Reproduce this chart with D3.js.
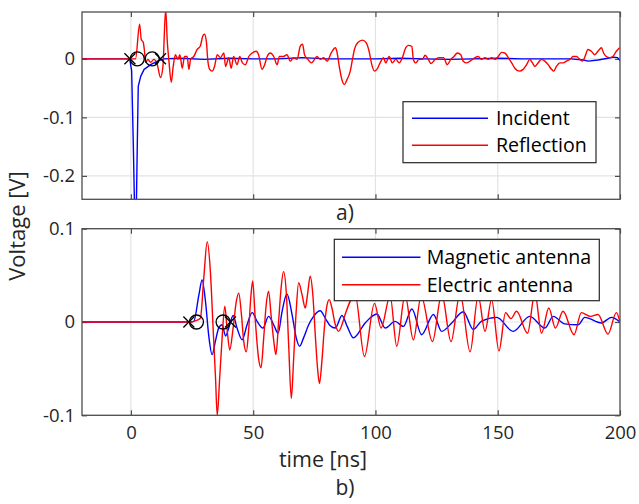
<!DOCTYPE html>
<html>
<head>
<meta charset="utf-8">
<script src="https://cdn.jsdelivr.net/npm/d3@7"></script>
<style>
  html, body { margin: 0; padding: 0; background: #fff; }
  svg { display: block; font-family: "Open Sans", "DejaVu Sans", sans-serif; }
</style>
</head>
<body>
<svg id="chart" width="639" height="504"></svg>
<script>
// ---------------- DATA ----------------
const xTicks = [0, 50, 100, 150, 200];
const xTickLabels = ["0", "50", "100", "150", "200"];
const yTicksTop = [-0.2, -0.1, 0];
const yTickLabelsTop = ["-0.2", "-0.1", "0"];
const yTicksBottom = [-0.1, 0, 0.1];
const yTickLabelsBottom = ["-0.1", "0", "0.1"];

// panel a) : time [ns], voltage [V]
const incidentT = [-20, -5, -0.5, 0.3, 1.0, 1.7, 2.2, 2.6, 3.0, 4.0, 5.4, 8.1, 10.8, 13.5, 20, 30, 40, 50, 60, 70, 80, 90, 100, 110, 120, 130, 140, 150, 160, 170, 180, 185, 187, 191, 195, 197.5, 199, 200];
const incidentV = [0, 0, 0, -0.02, -0.15, -0.30, -0.26, -0.15, -0.047, -0.030, -0.018, -0.010, -0.004, 0.0, 0.001, -0.001, 0.001, 0.0, 0.0, 0.002, 0.0, 0.0, 0.0, 0.001, 0.0, -0.001, 0.0, 0.001, 0.0, 0.0, 0.0, -0.002, -0.004, -0.002, 0.001, 0.003, 0.002, -0.003];

const reflectionT = [-20, -5, 1.9, 3.55, 4.24, 5.06, 5.6, 6.0, 6.94, 8.04, 9.4, 10.8, 12.1, 13.1, 14.2, 14.9, 15.5, 16.5, 17.3, 18.2, 19.2, 20.0, 21.0, 21.9, 23.0, 23.7, 24.4, 25.7, 27.1, 28.4, 29.4, 30.1, 30.9, 31.4, 32.2, 33.2, 34.2, 35.3, 36.6, 38.0, 38.7, 40.0, 41.0, 42.0, 43.4, 44.5, 45.6, 46.8, 48.2, 49.6, 51.2, 52.2, 53.6, 54.7, 55.7, 57.0, 58.4, 59.8, 60.7, 62.4, 63.8, 65.2, 66.5, 67.9, 69.3, 70.2, 71.0, 72.4, 73.8, 75.1, 76.1, 77.4, 78.8, 80.2, 81.9, 83.6, 84.2, 85.2, 86.3, 87.3, 88.3, 89.7, 90.6, 91.4, 92.8, 94.7, 96.1, 97.4, 98.5, 99.6, 100.6, 101.9, 103.3, 104.2, 105.6, 106.9, 108.3, 109.7, 111.0, 112.4, 113.5, 114.9, 115.5, 116.5, 117.8, 119.2, 120.3, 121.6, 122.7, 124.4, 125.9, 127.8, 129.4, 130.8, 132.1, 133.5, 134.9, 135.9, 137.3, 138.7, 140.7, 142.0, 143.4, 144.8, 146.1, 147.5, 148.9, 150.2, 151.6, 152.9, 154.3, 155.7, 157.0, 158.8, 160.4, 161.8, 163.1, 164.2, 165.2, 166.5, 167.9, 169.3, 170.6, 172.0, 172.9, 174.0, 175.4, 176.7, 178.1, 179.5, 180.8, 182.2, 183.6, 184.7, 185.7, 186.9, 188.3, 189.7, 191.0, 192.4, 193.3, 194.4, 195.8, 197.1, 198.5, 199.8];
const reflectionV = [0, 0, 0, 0.059, 0.033, 0.028, 0.011, -0.006, -0.001, -0.006, -0.001, -0.010, -0.032, -0.013, 0.085, 0.028, -0.001, -0.040, -0.013, 0.007, -0.001, 0.007, -0.016, 0.004, 0.004, -0.018, -0.001, 0.004, 0.016, 0.022, 0.039, 0.042, 0.028, -0.001, -0.018, -0.021, -0.013, 0.007, 0.002, 0.010, -0.013, 0.002, -0.016, 0.004, -0.010, 0.004, -0.007, -0.010, 0.004, 0.010, 0.013, 0.007, -0.018, -0.010, 0.004, 0.010, 0.004, -0.010, 0.004, 0.004, 0.007, -0.004, 0.002, -0.001, 0.022, 0.025, 0.007, -0.001, -0.007, -0.001, 0.004, -0.001, 0.002, -0.004, 0.010, 0.019, 0.013, -0.013, -0.036, -0.044, -0.036, -0.021, -0.001, 0.016, 0.028, 0.032, 0.028, 0.013, -0.010, -0.021, -0.018, -0.007, 0.002, -0.007, 0.004, -0.007, -0.001, -0.007, 0.002, 0.019, 0.023, 0.021, -0.001, -0.007, -0.001, -0.001, 0.006, -0.001, -0.008, -0.001, 0.002, 0.002, -0.010, -0.001, 0.004, 0.010, 0.007, -0.004, -0.007, -0.004, 0.002, 0.004, -0.001, 0.002, -0.001, 0.002, -0.001, 0.004, 0.011, 0.010, 0.002, -0.007, -0.016, -0.021, -0.018, -0.010, -0.001, -0.007, -0.013, -0.007, -0.001, -0.004, -0.010, -0.018, -0.021, -0.013, -0.007, -0.007, -0.004, -0.001, 0.004, 0.004, -0.001, -0.004, 0.004, 0.016, 0.013, 0.007, 0.013, 0.019, 0.010, 0.004, 0.002, 0.004, 0.013, 0.019];

// panel a) markers
const markerCrossTop = [-0.4, 12.1];
const markerCircleTop = [2.6, 8.7];

// panel b)
const magneticT = [-20, 24, 25.7, 27.8, 29.1, 30.5, 31.8, 33.2, 34.6, 35.9, 37.3, 38.7, 40.0, 41.8, 43.4, 45.5, 47.5, 49.6, 51.6, 54.0, 56.3, 58.4, 60.2, 61.8, 63.8, 65.9, 67.6, 69.0, 70.6, 72.7, 74.7, 77.4, 79.5, 81.5, 83.6, 86.3, 88.5, 91.0, 95.8, 100.6, 104.0, 108.0, 111.4, 114.9, 118.9, 123.7, 127.1, 131.2, 135.9, 140.0, 143.4, 149.6, 156.3, 163.1, 169.3, 172.7, 177.4, 182.9, 185.6, 192.4, 196.5, 200];
const magneticV = [0, 0, 0.0007, 0.029, 0.045, 0.022, -0.014, -0.035, -0.020, -0.0065, -0.003, -0.015, -0.0065, 0.007, -0.0065, -0.019, -0.003, 0.010, 0.0007, -0.0065, 0.006, -0.003, -0.012, 0.011, 0.030, 0.008, -0.017, -0.026, -0.017, -0.003, 0.006, 0.012, 0.004, -0.004, -0.0065, 0.007, -0.005, -0.017, -0.001, 0.0086, -0.0065, 0.0007, -0.0047, 0.014, -0.0136, 0.008, -0.010, -0.001, 0.011, -0.008, 0.001, 0.005, -0.010, 0.006, -0.0065, 0.006, -0.002, -0.003, 0.005, -0.001, 0.005, 0.0];

const electricT = [-20, 24, 24.8, 26.0, 28.4, 29.8, 31.2, 32.5, 33.6, 34.6, 35.3, 36.3, 37.3, 38.4, 39.3, 40.4, 41.8, 43.1, 44.1, 45.2, 46.1, 47.2, 48.2, 49.1, 49.8, 50.9, 52.2, 53.2, 54.3, 55.3, 56.3, 57.3, 58.4, 59.3, 60.4, 61.4, 62.4, 63.6, 64.5, 65.6, 66.5, 67.5, 68.6, 70.0, 71.3, 72.2, 73.3, 74.4, 75.4, 76.3, 77.1, 78.1, 79.1, 80.2, 81.1, 82.2, 83.6, 84.9, 86.3, 87.6, 91.7, 95.5, 99.6, 102.3, 106.0, 108.7, 112.1, 115.5, 118.7, 123.3, 127.1, 130.9, 134.6, 138.7, 142.0, 144.8, 147.5, 150.5, 153.2, 155.4, 157.7, 162.2, 165.2, 167.9, 170.9, 173.6, 176.7, 181.2, 184.2, 188.0, 191.0, 195.1, 198.5, 200];
const electricV = [0, 0, 0.0, 0.001, 0.004, 0.047, 0.086, 0.054, -0.006, -0.060, -0.100, -0.060, -0.017, 0.017, -0.0065, -0.030, -0.0065, 0.022, 0.031, 0.0079, -0.020, -0.032, -0.0065, 0.029, 0.044, 0.0007, -0.039, -0.049, -0.017, 0.018, 0.033, 0.0079, -0.020, -0.035, 0.0007, 0.036, 0.054, 0.029, -0.024, -0.082, -0.042, 0.008, 0.042, 0.029, 0.015, 0.029, 0.049, 0.029, -0.014, -0.049, -0.066, -0.042, -0.0065, 0.018, 0.024, 0.015, -0.003, -0.010, -0.003, 0.008, 0.029, -0.037, 0.020, -0.0065, 0.028, -0.026, 0.029, -0.019, 0.028, -0.021, 0.030, -0.021, 0.031, -0.032, 0.028, -0.010, 0.024, -0.031, 0.010, 0.0036, 0.0115, -0.012, 0.031, -0.012, 0.015, -0.0065, 0.0115, -0.0136, 0.010, 0.006, 0.008, -0.013, 0.010, 0.0];

const markerCrossBottom = [23.7, 40.7];
const markerCircleBottom = [26.8, 37.7];

const legendTop = ["Incident", "Reflection"];
const legendBottom = ["Magnetic antenna", "Electric antenna"];
const seriesColors = ["#0000ff", "#ff0000"];

// ---------------- DRAW ----------------
const svg = d3.select("#chart");
const X0 = 82, X1 = 620;
const axisColor = "#4d4d4d";
const gridColor = "#e3e3e3";
const textColor = "#262626";
const tickFont = 18.5;

const x = d3.scaleLinear().domain([-20, 200]).range([X0, X1]);
const yTop = d3.scaleLinear().domain([-0.24, 0.08]).range([199.3, 12]);
const yBot = d3.scaleLinear().domain([-0.1, 0.1]).range([415.3, 228.7]);

function panel(id, y, yTicks, yLabels, showXLabels, series, crosses, circles, legend, legendBox) {
  const g = svg.append("g");
  const [yb, yt] = y.range();
  svg.append("clipPath").attr("id", id).append("rect")
    .attr("x", X0).attr("y", yt).attr("width", X1 - X0).attr("height", yb - yt);
  g.selectAll(".vg").data(xTicks.filter(t => t > -20 && t < 200)).enter().append("line")
    .attr("x1", d => x(d)).attr("x2", d => x(d)).attr("y1", yt).attr("y2", yb)
    .attr("stroke", gridColor).attr("stroke-width", 1.2);
  g.selectAll(".hg").data(yTicks).enter().append("line")
    .attr("x1", X0).attr("x2", X1).attr("y1", d => y(d)).attr("y2", d => y(d))
    .attr("stroke", gridColor).attr("stroke-width", 1.2);
  const tickLen = 5;
  const axB = d3.axisBottom(x).tickValues(xTicks).tickSizeInner(-tickLen).tickSizeOuter(0)
    .tickFormat((d, i) => showXLabels ? xTickLabels[i] : "");
  const axT = d3.axisTop(x).tickValues(xTicks).tickSizeInner(-tickLen).tickSizeOuter(0).tickFormat("");
  const axL = d3.axisLeft(y).tickValues(yTicks).tickSizeInner(-tickLen).tickSizeOuter(0)
    .tickFormat((d, i) => yLabels[i]);
  const axR = d3.axisRight(y).tickValues(yTicks).tickSizeInner(-tickLen).tickSizeOuter(0).tickFormat("");
  const styleAxis = sel => {
    sel.select(".domain").remove();
    sel.selectAll(".tick line").attr("stroke", axisColor).attr("stroke-width", 1.2);
    sel.selectAll(".tick text").attr("fill", textColor).attr("font-size", tickFont)
      .attr("font-family", "'Open Sans', sans-serif");
  };
  g.append("g").attr("transform", `translate(0,${yb})`).call(axB).call(styleAxis)
    .selectAll(".tick text").attr("dy", "1.05em").attr("y", 4);
  g.append("g").attr("transform", `translate(0,${yt})`).call(axT).call(styleAxis);
  g.append("g").attr("transform", `translate(${X0},0)`).call(axL).call(styleAxis)
    .selectAll(".tick text").attr("x", -7);
  g.append("g").attr("transform", `translate(${X1},0)`).call(axR).call(styleAxis);

  const plot = g.append("g").attr("clip-path", `url(#${id})`);
  series.forEach((s, k) => {
    const pts = s.t.map((t, i) => [t, s.v[i]]);
    plot.append("path").datum(pts)
      .attr("fill", "none").attr("stroke", seriesColors[k]).attr("stroke-width", 1.4)
      .attr("stroke-linejoin", "round")
      .attr("d", d3.line().x(d => x(d[0])).y(d => y(d[1])).curve(s.curve));
  });
  const m = 5.5;
  crosses.forEach(t => {
    const cx = x(t), cy = y(0);
    plot.append("path").attr("d", `M${cx - m},${cy - m}L${cx + m},${cy + m}M${cx - m},${cy + m}L${cx + m},${cy - m}`)
      .attr("stroke", "#000").attr("stroke-width", 1.3).attr("fill", "none");
  });
  circles.forEach(t => {
    plot.append("circle").attr("cx", x(t)).attr("cy", y(0)).attr("r", 7)
      .attr("fill", "none").attr("stroke", "#000").attr("stroke-width", 1.3);
  });
  g.append("rect").attr("x", X0).attr("y", yt).attr("width", X1 - X0).attr("height", yb - yt)
    .attr("fill", "none").attr("stroke", axisColor).attr("stroke-width", 1.3);

  const lb = legendBox;
  const lg = g.append("g");
  lg.append("rect").attr("x", lb.x).attr("y", lb.y).attr("width", lb.w).attr("height", lb.h)
    .attr("fill", "#fff").attr("stroke", "#262626").attr("stroke-width", 1.2);
  legend.forEach((name, i) => {
    const ly = lb.y + lb.row0 + i * lb.dy;
    lg.append("line").attr("x1", lb.lx0).attr("x2", lb.lx1).attr("y1", ly).attr("y2", ly)
      .attr("stroke", seriesColors[i]).attr("stroke-width", 1.4);
    lg.append("text").attr("x", lb.tx).attr("y", ly).attr("dy", "0.36em")
      .attr("font-size", lb.fs).attr("fill", "#000").text(name);
  });
}

panel("clipTop", yTop, yTicksTop, yTickLabelsTop, false,
  [{ t: incidentT, v: incidentV, curve: d3.curveLinear },
   { t: reflectionT, v: reflectionV, curve: d3.curveMonotoneX }],
  markerCrossTop, markerCircleTop, legendTop,
  { x: 403, y: 101.7, w: 193, h: 61, row0: 16.6, dy: 27, lx0: 412, lx1: 488, tx: 496, fs: 19.6 });

panel("clipBot", yBot, yTicksBottom, yTickLabelsBottom, true,
  [{ t: magneticT, v: magneticV, curve: d3.curveMonotoneX },
   { t: electricT, v: electricV, curve: d3.curveMonotoneX }],
  markerCrossBottom, markerCircleBottom, legendBottom,
  { x: 334.3, y: 239.3, w: 265, h: 61.4, row0: 18, dy: 27.4, lx0: 342, lx1: 420.5, tx: 426.7, fs: 19.6 });

// labels
svg.append("text").attr("x", 345).attr("y", 220).attr("text-anchor", "middle")
  .attr("font-size", 21).attr("fill", textColor).text("a)");
svg.append("text").attr("x", 345).attr("y", 495).attr("text-anchor", "middle")
  .attr("font-size", 21).attr("fill", textColor).text("b)");
svg.append("text").attr("x", 323).attr("y", 467).attr("text-anchor", "middle")
  .attr("font-size", 21.5).attr("fill", textColor).text("time [ns]");
svg.append("text").attr("transform", "translate(25,226) rotate(-90)").attr("text-anchor", "middle")
  .attr("font-size", 22).attr("fill", textColor).text("Voltage [V]");
</script>
</body>
</html>
